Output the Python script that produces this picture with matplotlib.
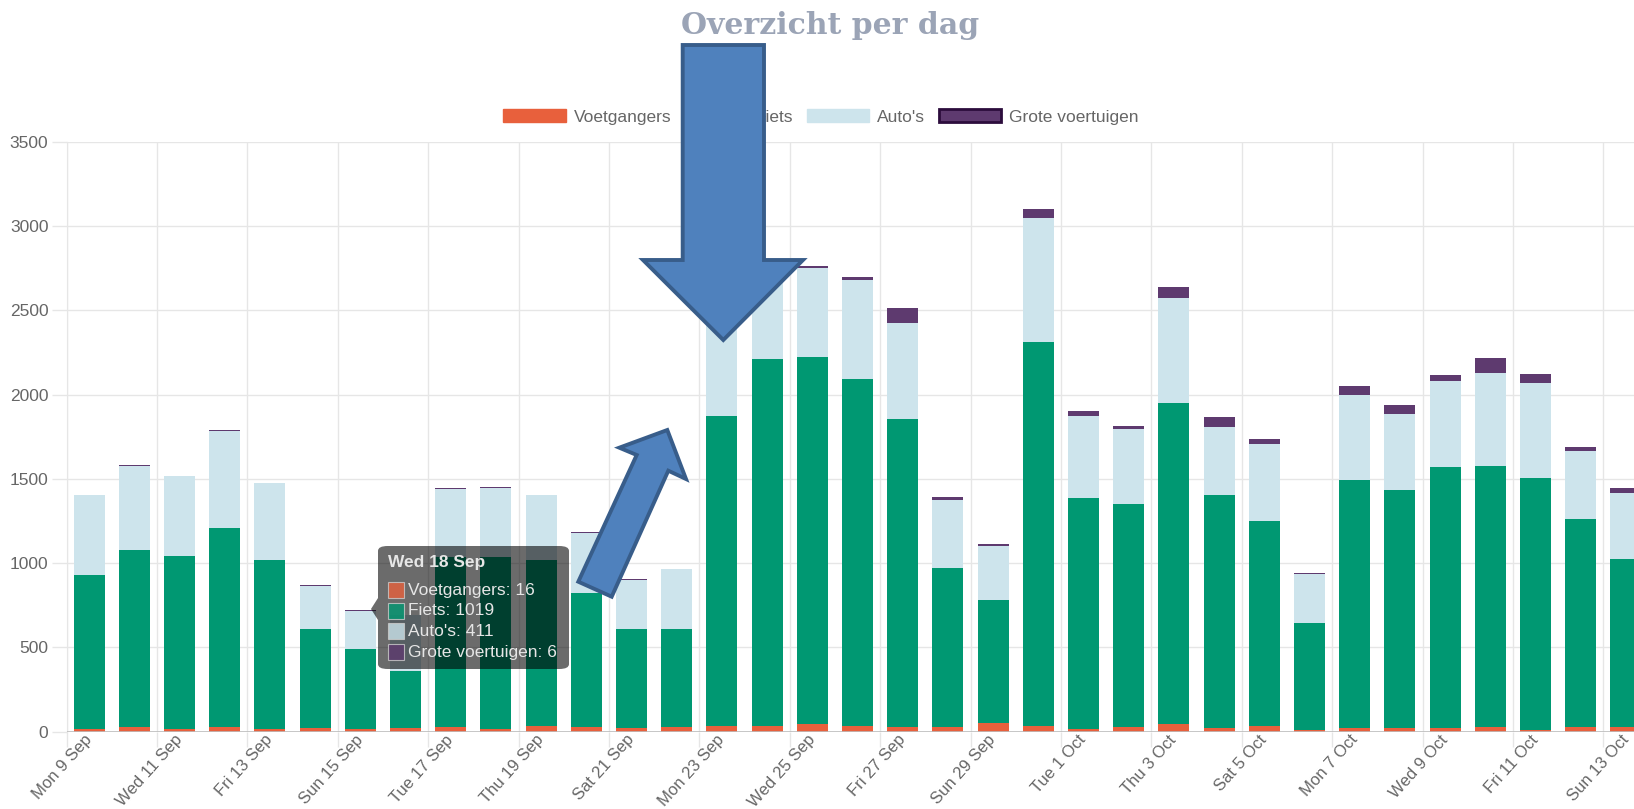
import matplotlib.pyplot as plt
import matplotlib
import numpy as np
from matplotlib.patches import Patch, Polygon, FancyBboxPatch, Rectangle

# figure size in pixels
W, H = 1634, 809
plt.rcParams['font.family'] = ['Liberation Sans', 'DejaVu Sans']

# data
days = ['Mon 9 Sep', 'Tue 10 Sep', 'Wed 11 Sep', 'Thu 12 Sep', 'Fri 13 Sep', 'Sat 14 Sep',
        'Sun 15 Sep', 'Mon 16 Sep', 'Tue 17 Sep', 'Wed 18 Sep', 'Thu 19 Sep', 'Fri 20 Sep',
        'Sat 21 Sep', 'Sun 22 Sep', 'Mon 23 Sep', 'Tue 24 Sep', 'Wed 25 Sep', 'Thu 26 Sep',
        'Fri 27 Sep', 'Sat 28 Sep', 'Sun 29 Sep', 'Mon 30 Sep', 'Tue 1 Oct', 'Wed 2 Oct',
        'Thu 3 Oct', 'Fri 4 Oct', 'Sat 5 Oct', 'Sun 6 Oct', 'Mon 7 Oct', 'Tue 8 Oct',
        'Wed 9 Oct', 'Thu 10 Oct', 'Fri 11 Oct', 'Sat 12 Oct', 'Sun 13 Oct']
voetgangers = [16, 28, 16, 28, 14, 20, 16, 20, 30, 16, 34, 28, 24, 26, 36, 32, 44, 36,
               28, 28, 52, 36, 16, 30, 44, 24, 32, 10, 22, 22, 20, 26, 10, 28, 28]
fiets = [916, 1052, 1026, 1178, 1007, 590, 477, 340, 1006, 1019, 986, 795, 586, 580, 1835, 2179,
         2181, 2057, 1829, 945, 728, 2278, 1370, 1322, 1907, 1382, 1216, 635, 1468, 1413,
         1549, 1549, 1496, 1235, 999]
autos = [470, 493, 474, 577, 454, 256, 225, 330, 405, 411, 382, 358, 292, 359, 690, 520,
         525, 587, 568, 399, 321, 731, 484, 445, 623, 400, 460, 289, 508, 450,
         514, 553, 563, 399, 388]
grote = [2, 8, 2, 7, 2, 6, 4, 4, 4, 6, 3, 2, 2, 2, 14, 10, 13, 15, 89, 20, 14, 55, 33, 15,
         62, 60, 29, 7, 53, 50, 35, 89, 53, 26, 32]

series = ['Voetgangers', 'Fiets', "Auto's", 'Grote voertuigen']
colors = ['#e8603c', '#009872', '#cde4ec', '#5e3a6f']
tooltip_day = 9

fig = plt.figure(figsize=(W / 100, H / 100), dpi=100)
ax = fig.add_axes([66.5 / W, (H - 731.6) / H, (W - 66.5) / W, (731.6 - 141.7) / H])

x = np.arange(len(days))
bottom = np.zeros(len(days))
for vals, col, name in zip([voetgangers, fiets, autos, grote], colors, series):
    ax.bar(x, vals, 0.69, bottom=bottom, color=col, label=name, zorder=3)
    bottom += np.array(vals)

ax.set_xlim(-0.5, -0.5 + (W - 66.5) / 45.2)
ax.set_ylim(0, 3500)
ax.set_yticks(np.arange(0, 3501, 500))
ax.set_xticks(x[::2])
ax.set_xticklabels(days[::2], rotation=48, ha='right', va='center', rotation_mode='anchor')
ax.set_xticks(np.arange(-0.5, len(days), 2), minor=True)
ax.tick_params(axis='x', which='major', length=0, pad=4, labelsize=12, labelcolor='#666666')
ax.tick_params(axis='x', which='minor', length=11, color='#e6e6e6', width=1)
ax.tick_params(axis='y', length=11, color='#e6e6e6', width=1, pad=2,
               labelsize=12.5, labelcolor='#666666')
ax.grid(True, axis='y', color='#e6e6e6', linewidth=1, zorder=0)
ax.grid(True, axis='x', which='minor', color='#e6e6e6', linewidth=1, zorder=0)
for s in ['top', 'right', 'bottom']:
    ax.spines[s].set_visible(False)
ax.spines['left'].set_color('#e6e6e6')
ax.axhline(0, color='#bdbdbd', linewidth=1.2, zorder=4)

# title
fig.text(830 / W, 1 - 26 / H, 'Overzicht per dag', ha='center', va='center',
         family='DejaVu Serif', fontweight='bold', fontsize=21.5, color='#9ba4b6')

# legend
handles = [Patch(facecolor=c, edgecolor=c, label=n) for c, n in zip(colors, series)]
handles[3] = Patch(facecolor=colors[3], edgecolor='#2c0c3c', linewidth=2, label=series[3])
fig.legend(handles=handles, loc='center', bbox_to_anchor=(821 / W, 1 - 117 / H), ncol=4,
           frameon=False, fontsize=12.5, labelcolor='#666666', handlelength=3.6,
           handleheight=0.75, handletextpad=0.45, columnspacing=0.8)

# tooltip
def fx(px):
    return px / W

def fy(py):
    return 1 - py / H

box = FancyBboxPatch((fx(378), fy(669)), fx(569) - fx(378), fy(546) - fy(669),
                     boxstyle='round,pad=0,rounding_size=0.006', transform=fig.transFigure,
                     facecolor=(0, 0, 0, 0.58), edgecolor='none', zorder=10)
fig.add_artist(box)
caret = Polygon([(fx(378), fy(598)), (fx(371), fy(609)), (fx(378), fy(620))],
                closed=True, transform=fig.transFigure, facecolor=(0, 0, 0, 0.58),
                edgecolor='none', zorder=10)
fig.add_artist(caret)
fig.text(fx(388), fy(563), days[tooltip_day], ha='left', va='center', fontsize=12.5,
         fontweight='bold', color='#e6e6e6', zorder=11)
tip_vals = [voetgangers[tooltip_day], fiets[tooltip_day], autos[tooltip_day], grote[tooltip_day]]
for i, (name, val, col) in enumerate(zip(series, tip_vals, colors)):
    yc = 590 + i * 20.7
    fig.add_artist(Rectangle((fx(388), fy(yc + 8)), fx(404) - fx(388), fy(yc - 8) - fy(yc + 8),
                             transform=fig.transFigure, facecolor=col, alpha=0.8,
                             edgecolor='#cccccc', linewidth=0.8, zorder=11))
    fig.text(fx(408), fy(yc), f'{name}: {val}', ha='left', va='center', fontsize=12.5,
             color='#e6e6e6', zorder=11)

# blue arrows drawn on top of the screenshot
down_arrow = [(682.7, 45), (764, 45), (764, 260), (803, 260), (723.3, 340), (643, 260), (682.7, 260)]
up_arrow = [(578.3, 581.7), (636.7, 455), (619.3, 447.7), (667.3, 430), (686, 479),
            (668.3, 470.7), (611.7, 596.7)]
for pts in [down_arrow, up_arrow]:
    fig.add_artist(Polygon([(fx(a), fy(b)) for a, b in pts], closed=True,
                           transform=fig.transFigure, facecolor='#4f81bd',
                           edgecolor='#385d8a', linewidth=2.8, joinstyle='miter', zorder=20))

fig.savefig('out.png', dpi=100)
